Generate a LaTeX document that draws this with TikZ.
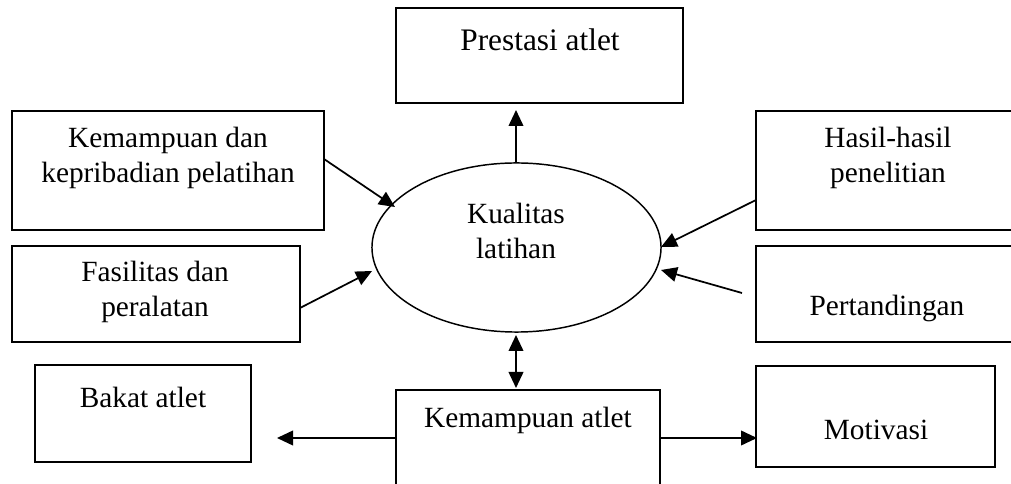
\documentclass[tikz,border=0pt]{standalone}
\usepackage{fontspec}
\setmainfont{Liberation Serif}
\usetikzlibrary{arrows.meta}
\begin{document}
\begin{tikzpicture}[x=0.75pt,y=-0.75pt,
  box/.style={draw,line width=1.3pt},
  txt/.style={font=\fontsize{22}{26.25}\selectfont,align=center,inner sep=0pt},
  arr/.style={line width=1.3pt,-{Triangle[length=12pt,width=11pt]}},
  darr/.style={line width=1.3pt,{Triangle[length=12pt,width=11pt]}-{Triangle[length=12pt,width=11pt]}}]
\useasboundingbox (0,0) rectangle (1011,484);
\clip (0,0) rectangle (1011,484);
% boxes
\draw[box] (396,8) rectangle (683,103);
\draw[box] (12,111) rectangle (324,230);
\draw[box] (12,246) rectangle (300,342);
\draw[box] (756,111) rectangle (1030,230);
\draw[box] (756,246) rectangle (1030,342);
\draw[box] (35,365) rectangle (251,462);
\draw[box] (396,390) rectangle (660,500);
\draw[box] (756,366) rectangle (995,467);
\draw[line width=1.1pt] (516.5,247.5) ellipse [x radius=108.4pt, y radius=63.4pt];
% texts
\node[txt,font=\fontsize{23.5}{26.25}\selectfont] (prestasi) at (540,40) {Prestasi atlet};
\node[txt] (kep) at (168,157.5) {Kemampuan dan\\kepribadian pelatihan};
\node[txt] (fas) at (155,291.5) {Fasilitas dan\\peralatan};
\node[txt] (hasil) at (888,157.5) {Hasil-hasil\\penelitian};
\node[txt] (tanding) at (887,308) {Pertandingan};
\node[txt] (kual) at (516,230.5) {Kualitas\\latihan};
\node[txt] (bakat) at (143,397) {Bakat atlet};
\node[txt] (katlet) at (528,420) {Kemampuan atlet};
\node[txt] (motiv) at (876,430) {Motivasi};
% connector end points
\coordinate (eTop) at (516,163);
\coordinate (pBot) at (516,110);
\coordinate (kOut) at (324,159);
\coordinate (kIn) at (395,207);
\coordinate (fOut) at (300,308);
\coordinate (fIn) at (372,271);
\coordinate (hOut) at (756,200);
\coordinate (hIn) at (661,247);
\coordinate (tOut) at (742,293);
\coordinate (tIn) at (661,270);
\coordinate (eBot) at (516,335);
\coordinate (aTop) at (516,388);
\coordinate (aLeft) at (396,438);
\coordinate (bTip) at (277,438);
\coordinate (aRight) at (660,438);
\coordinate (mTip) at (757,438);
% arrows
\draw[arr] (eTop) -- (pBot);
\draw[arr] (kOut) -- (kIn);
\draw[arr] (fOut) -- (fIn);
\draw[arr] (hOut) -- (hIn);
\draw[arr] (tOut) -- (tIn);
\draw[darr] (eBot) -- (aTop);
\draw[arr] (aLeft) -- (bTip);
\draw[arr] (aRight) -- (mTip);
\end{tikzpicture}
\end{document}
